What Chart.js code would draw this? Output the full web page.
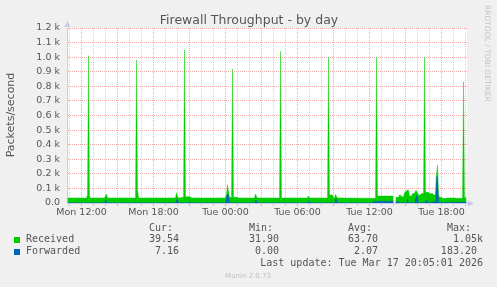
<!DOCTYPE html>
<html>
<head>
<meta charset="utf-8">
<script src="https://cdn.jsdelivr.net/npm/chart.js@4/dist/chart.umd.min.js"></script>
<style>
  html, body { margin: 0; padding: 0; background: #f0f0f0; }
  canvas { display: block; }
</style>
</head>
<body>
<canvas id="grafico-firewall" width="497" height="287"></canvas>
<script>
const titulo = 'Firewall Throughput - by day'
const tituloEixoY = 'Packets/second'
const xTickLabels = ['Mon 12:00', 'Mon 18:00', 'Tue 00:00', 'Tue 06:00', 'Tue 12:00', 'Tue 18:00']
const inicio = 'Mon 10:50'
const fim = 'Tue 20:10'

const received = [
  ['Mon 10:50', 35], ['Mon 12:25', 35], ['Mon 12:30', 55], ['Mon 12:35', 1010], ['Mon 12:40', 50], ['Mon 12:45', 35],
  ['Mon 13:55', 35], ['Mon 14:00', 48], ['Mon 14:05', 62], ['Mon 14:10', 35],
  ['Mon 16:30', 35], ['Mon 16:35', 980], ['Mon 16:40', 89], ['Mon 16:45', 40], ['Mon 16:50', 35],
  ['Mon 19:50', 35], ['Mon 19:55', 70], ['Mon 20:00', 45], ['Mon 20:05', 35],
  ['Mon 20:30', 40], ['Mon 20:35', 1050], ['Mon 20:40', 43], ['Mon 21:05', 43], ['Mon 21:10', 35],
  ['Tue 00:00', 35], ['Tue 00:05', 60], ['Tue 00:10', 123], ['Tue 00:15', 80], ['Tue 00:20', 40],
  ['Tue 00:30', 40], ['Tue 00:35', 920], ['Tue 00:40', 39], ['Tue 01:00', 39], ['Tue 01:05', 35],
  ['Tue 02:25', 35], ['Tue 02:30', 62], ['Tue 02:35', 45], ['Tue 02:40', 35],
  ['Tue 04:30', 35], ['Tue 04:35', 1040], ['Tue 04:40', 35],
  ['Tue 06:50', 35], ['Tue 06:55', 48], ['Tue 07:00', 35],
  ['Tue 08:30', 35], ['Tue 08:35', 1000], ['Tue 08:40', 55], ['Tue 08:55', 55], ['Tue 09:00', 35],
  ['Tue 09:05', 35], ['Tue 09:10', 60], ['Tue 09:15', 45], ['Tue 09:20', 35],
  ['Tue 12:15', 33], ['Tue 12:30', 33], ['Tue 12:35', 1000], ['Tue 12:40', 48], ['Tue 14:00', 48],
  ['Tue 14:05', null],
  ['Tue 14:10', 39], ['Tue 14:25', 39], ['Tue 14:30', 55], ['Tue 14:35', 55], ['Tue 14:40', 43], ['Tue 14:50', 43],
  ['Tue 14:55', 70], ['Tue 15:10', 89], ['Tue 15:15', 89], ['Tue 15:20', 48], ['Tue 15:30', 48],
  ['Tue 15:35', 66], ['Tue 15:45', 66], ['Tue 15:50', 84], ['Tue 15:55', 84], ['Tue 16:05', 55], ['Tue 16:15', 55],
  ['Tue 16:20', 66], ['Tue 16:30', 66], ['Tue 16:35', 1000], ['Tue 16:40', 73], ['Tue 16:55', 73],
  ['Tue 17:00', 66], ['Tue 17:15', 66], ['Tue 17:20', 55], ['Tue 17:30', 55],
  ['Tue 17:35', 200], ['Tue 17:40', 260], ['Tue 17:45', 60], ['Tue 17:50', 39], ['Tue 18:00', 39],
  ['Tue 18:05', 32], ['Tue 18:25', 32], ['Tue 18:30', 35], ['Tue 19:10', 35], ['Tue 19:15', 32],
  ['Tue 19:45', 32], ['Tue 19:50', 830], ['Tue 19:55', 35], ['Tue 20:05', 39.54]
]

const forwarded = [
  ['Mon 10:50', 2], ['Mon 13:55', 2], ['Mon 14:00', 20], ['Mon 14:05', 18], ['Mon 14:10', 2],
  ['Mon 19:50', 2], ['Mon 19:55', 25], ['Mon 20:00', 20], ['Mon 20:05', 2],
  ['Mon 20:55', 2], ['Mon 21:00', 5], ['Mon 21:05', 5], ['Mon 21:10', 2],
  ['Tue 00:00', 2], ['Tue 00:05', 45], ['Tue 00:10', 62], ['Tue 00:15', 55], ['Tue 00:20', 2],
  ['Tue 02:25', 2], ['Tue 02:30', 20], ['Tue 02:35', 18], ['Tue 02:40', 2],
  ['Tue 06:50', 2], ['Tue 06:55', 14], ['Tue 07:00', 12], ['Tue 07:05', 2],
  ['Tue 09:05', 2], ['Tue 09:10', 27], ['Tue 09:15', 25], ['Tue 09:20', 2],
  ['Tue 12:15', 2], ['Tue 12:20', 12], ['Tue 14:00', 12],
  ['Tue 14:05', null],
  ['Tue 14:10', 8], ['Tue 14:25', 8], ['Tue 14:30', 2],
  ['Tue 15:05', 2], ['Tue 15:10', 27], ['Tue 15:15', 2],
  ['Tue 15:45', 2], ['Tue 15:50', 30], ['Tue 15:55', 55], ['Tue 16:00', 40], ['Tue 16:05', 2],
  ['Tue 16:35', 2], ['Tue 16:40', 16], ['Tue 16:50', 16], ['Tue 16:55', 2],
  ['Tue 17:30', 10], ['Tue 17:35', 180], ['Tue 17:40', 183.2], ['Tue 17:45', 10], ['Tue 17:50', 4],
  ['Tue 20:05', 7.16]
]

const legendaCabecalho = ['Cur:', 'Min:', 'Avg:', 'Max:']
const legendaNomes = ['Received', 'Forwarded']
const receivedStats = ['39.54', '31.90', '63.70', '1.05k']
const forwardedStats = ['7.16', '0.00', '2.07', '183.20 ']
const ultimaAtualizacao = 'Last update: Tue Mar 17 20:05:01 2026'
const rodape = 'Munin 2.0.73'
const marcaRrd = 'RRDTOOL / TOBI OETIKER'

const corRecebido = '#00cc00'
const corEncaminhado = '#0066b3'
const corTexto = '#555555'
const corGradeMaior = 'rgba(230, 100, 100, 0.55)'
const corGradeMenor = 'rgba(150, 150, 150, 0.45)'
const corEixo = '#c8c8f0'

function toMin(s) {
  const [dia, hora] = s.split(' ')
  const [h, m] = hora.split(':').map(Number)
  return (dia === 'Tue' ? 1440 : 0) + h * 60 + m
}

function pontos(lista) {
  return lista.map(p => ({ x: toMin(p[0]), y: p[1] }))
}

// meio pixel (2.5 min) de deslocamento para as amostras cairem no centro do pixel
const minX = toMin(inicio) - 2.5
const maxX = toMin(fim) - 2.5
const horas = []
for (let v = Math.ceil(minX / 60) * 60; v <= maxX; v += 60) horas.push(v)

const desenhoMunin = {
  id: 'desenhoMunin',
  beforeDraw(chart) {
    const { ctx, chartArea: a } = chart
    ctx.save()
    ctx.fillStyle = '#f0f0f0'
    ctx.fillRect(0, 0, chart.width, chart.height)
    ctx.fillStyle = '#ffffff'
    ctx.fillRect(a.left, a.top, a.right - a.left, a.bottom - a.top)
    ctx.restore()
  },
  afterDraw(chart) {
    const { ctx, chartArea: a } = chart
    ctx.save()

    // setas dos eixos
    ctx.fillStyle = corEixo
    ctx.beginPath()
    ctx.moveTo(a.left + 0.5, a.top - 7)
    ctx.lineTo(a.left - 2.5, a.top - 1)
    ctx.lineTo(a.left + 3.5, a.top - 1)
    ctx.fill()
    ctx.beginPath()
    ctx.moveTo(a.right + 7, a.bottom + 0.5)
    ctx.lineTo(a.right + 1, a.bottom - 2.5)
    ctx.lineTo(a.right + 1, a.bottom + 3.5)
    ctx.fill()

    // titulo
    ctx.fillStyle = corTexto
    ctx.font = '12.5px "DejaVu Sans"'
    ctx.textAlign = 'center'
    ctx.textBaseline = 'alphabetic'
    ctx.fillText(titulo, 249, 24)

    // titulo do eixo y
    ctx.save()
    ctx.translate(14, 115)
    ctx.rotate(-Math.PI / 2)
    ctx.font = '11px "DejaVu Sans"'
    ctx.fillText(tituloEixoY, 0, 0)
    ctx.restore()

    // marca rrdtool
    ctx.save()
    ctx.translate(485, 5)
    ctx.rotate(Math.PI / 2)
    ctx.fillStyle = '#c4c4c4'
    ctx.font = '7.5px "DejaVu Sans"'
    ctx.textAlign = 'left'
    ctx.textBaseline = 'alphabetic'
    ctx.fillText(marcaRrd, 0, 0)
    ctx.restore()

    // legenda
    ctx.font = '10px "DejaVu Sans Mono"'
    ctx.textBaseline = 'middle'
    ctx.fillStyle = corTexto
    const colX = [149, 249, 348, 447]
    const fimX = [179, 279, 378, 483]
    ctx.textAlign = 'left'
    legendaCabecalho.forEach((t, i) => ctx.fillText(t, colX[i], 228))

    const linhas = [
      { nome: legendaNomes[0], cor: corRecebido, stats: receivedStats, y: 239.5 },
      { nome: legendaNomes[1], cor: corEncaminhado, stats: forwardedStats, y: 251.5 }
    ]
    linhas.forEach(l => {
      ctx.fillStyle = l.cor
      ctx.fillRect(14, l.y - 2.5, 6, 6)
      ctx.fillStyle = corTexto
      ctx.textAlign = 'left'
      ctx.fillText(l.nome, 26, l.y)
      ctx.textAlign = 'right'
      l.stats.forEach((s, i) => ctx.fillText(s, fimX[i], l.y))
    })
    ctx.textAlign = 'right'
    ctx.fillText(ultimaAtualizacao, 483, 263.5)

    ctx.textAlign = 'center'
    ctx.fillStyle = '#c0c0c0'
    ctx.font = '7px "DejaVu Sans"'
    ctx.fillText(rodape, 248, 276)
    ctx.restore()
  }
}

const ctx = document.getElementById('grafico-firewall')

new Chart(ctx, {
  type: 'line',
  data: {
    datasets: [
      {
        label: legendaNomes[1],
        data: pontos(forwarded),
        order: 0,
        backgroundColor: corEncaminhado,
        borderColor: 'rgba(0, 102, 179, 0.5)',
        borderWidth: 0.6,
        fill: 'origin',
        pointRadius: 0,
        tension: 0
      },
      {
        label: legendaNomes[0],
        data: pontos(received),
        order: 1,
        backgroundColor: corRecebido,
        borderColor: 'rgba(0, 204, 0, 0.4)',
        borderWidth: 1,
        fill: 'origin',
        pointRadius: 0,
        tension: 0
      }
    ]
  },
  options: {
    responsive: false,
    animation: false,
    events: [],
    layout: { padding: { top: 28, right: 30, left: 0, bottom: 0 } },
    plugins: {
      legend: { display: false },
      title: { display: false },
      tooltip: { enabled: false }
    },
    scales: {
      x: {
        type: 'linear',
        min: minX,
        max: maxX,
        afterFit: s => { s.height = 84 },
        afterBuildTicks: s => { s.ticks = horas.map(v => ({ value: v })) },
        ticks: {
          autoSkip: false,
          maxRotation: 0,
          padding: 1,
          color: corTexto,
          font: { family: 'DejaVu Sans', size: 9.5 },
          callback: v => {
            const i = xTickLabels.findIndex(t => toMin(t) === v)
            return i >= 0 ? xTickLabels[i] : ''
          }
        },
        grid: {
          color: c => (c.tick && c.tick.value % 180 === 0) ? corGradeMaior : corGradeMenor,
          tickLength: 3,
          lineWidth: 1
        },
        border: { color: corEixo, width: 1, dash: [1, 1] }
      },
      y: {
        type: 'linear',
        min: 0,
        max: 1200,
        afterFit: s => { s.width = 67 },
        ticks: {
          stepSize: 100,
          padding: 7,
          color: corTexto,
          font: { family: 'DejaVu Sans', size: 9.5 },
          callback: v => v === 0 ? '0.0' : (v / 1000).toFixed(1) + ' k'
        },
        grid: {
          color: c => (c.tick && c.tick.value === 0) ? 'transparent' : corGradeMaior,
          drawTicks: false,
          lineWidth: 1
        },
        border: { color: corEixo, width: 1, dash: [1, 1] }
      }
    }
  },
  plugins: [desenhoMunin]
})
</script>
</body>
</html>
